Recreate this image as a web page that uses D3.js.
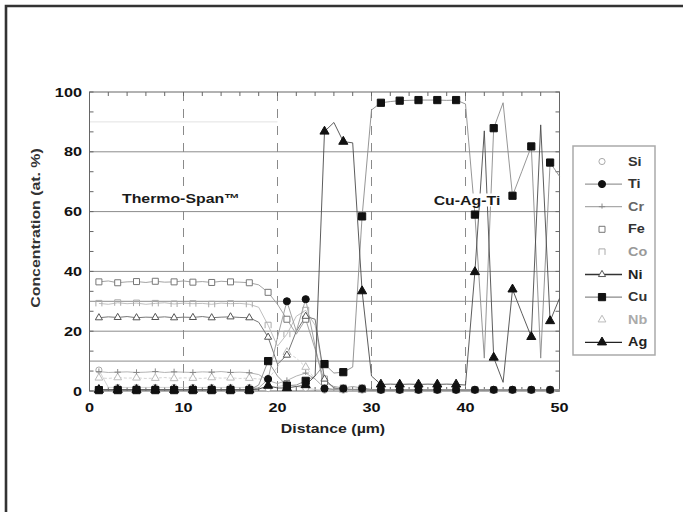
<!DOCTYPE html>
<html><head><meta charset="utf-8">
<script src="https://cdn.jsdelivr.net/npm/d3@7"></script>
<style>body{margin:0;background:#fff} svg{display:block} text{font-family:"Liberation Sans",Arial,sans-serif;font-weight:bold}</style>
</head><body><svg id="c" width="683" height="512"></svg>
<script>
// ---------------- data (x = 1 .. 50 µm, markers on every other point) ----------------
const distance = d3.range(1, 51);
const Si = [7.0,1.2,1.2,1.2,1.2,1.2,1.2,1.2,1.2,1.2,1.2,1.2,1.2,1.2,1.2,1.2,1.2,
  1.0,0.8,1.5,2.0,1.5,1.0,0.5,0.3,0.3,0.3,0.3,0.3,0.3,
  0.3,0.3,0.3,0.3,0.3,0.3,0.3,0.3,0.3,0.3,0.3,0.3,0.3,0.3,0.3,0.3,0.3,0.3,0.3,0.3];
const Ti = [0.5,0.5,0.5,0.5,0.5,0.5,0.5,0.5,0.5,0.5,0.5,0.5,0.5,0.5,0.5,0.5,0.5,
  1.0,4.0,18.0,30.0,20.0,30.7,15.0,0.8,0.5,0.8,0.5,0.8,0.5,
  0.4,0.4,0.4,0.4,0.4,0.4,0.4,0.4,0.4,0.4,0.4,0.4,0.4,0.4,0.4,0.4,0.4,0.4,0.4,0.4];
const Cr = [6.5,6.2,6.3,6.4,6.2,6.3,6.5,6.2,6.4,6.3,6.2,6.4,6.3,6.5,6.2,6.3,6.1,
  5.5,3.5,2.5,3.5,5.0,6.0,4.0,1.0,0.5,0.4,0.3,0.3,0.3,
  0.3,0.3,0.3,0.3,0.3,0.3,0.3,0.3,0.3,0.3,0.3,0.3,0.3,0.3,0.3,0.3,0.3,0.3,0.3,0.3];
const Fe = [36.5,36.8,36.2,36.5,36.6,36.3,36.7,36.4,36.5,36.8,36.4,36.6,36.3,36.7,36.5,36.4,36.2,
  35.5,33.0,29.0,24.0,19.0,24.0,14.0,3.0,1.5,1.0,1.5,1.0,0.5,
  0.4,0.4,0.4,0.4,0.4,0.4,0.4,0.4,0.4,0.4,0.4,0.4,0.4,0.4,0.4,0.4,0.4,0.4,0.4,0.4];
const Co = [29.3,29.0,29.5,29.2,29.4,29.0,29.3,29.5,29.1,29.4,29.2,29.3,29.0,29.4,29.2,29.3,29.0,
  28.0,22.0,15.0,19.0,25.0,27.0,22.0,4.0,1.0,0.6,0.5,0.4,0.3,
  0.3,0.3,0.3,0.3,0.3,0.3,0.3,0.3,0.3,0.3,0.3,0.3,0.3,0.3,0.3,0.3,0.3,0.3,0.3,0.3];
const Ni = [24.5,24.8,24.6,24.9,24.5,24.7,24.6,24.8,24.5,24.7,24.6,24.9,24.5,24.7,24.8,24.6,24.5,
  23.0,18.0,9.0,12.0,20.0,25.0,24.0,4.0,1.0,0.6,0.5,0.4,0.3,
  0.3,0.3,0.3,0.3,0.3,0.3,0.3,0.3,0.3,0.3,0.3,0.3,0.3,0.3,0.3,0.3,0.3,0.3,0.3,0.3];
const Cu = [0.3,0.3,0.3,0.3,0.3,0.3,0.3,0.3,0.3,0.3,0.3,0.3,0.3,0.3,0.3,0.3,0.3,
  2.0,10.0,5.0,1.8,2.0,3.4,5.0,9.0,6.0,6.3,8.0,58.4,94.0,
  96.4,96.8,97.1,97.2,97.3,97.3,97.3,97.2,97.3,96.0,59.0,11.0,87.9,96.4,65.3,73.5,81.8,11.0,76.4,71.8];
const Nb = [4.4,4.2,4.5,4.3,4.4,4.2,4.3,4.5,4.2,4.4,4.3,4.2,4.5,4.3,4.4,4.2,4.3,
  4.0,4.0,8.0,13.0,11.0,8.0,4.0,1.0,0.5,0.3,0.3,0.3,0.3,
  0.2,0.2,0.2,0.2,0.2,0.2,0.2,0.2,0.2,0.2,0.2,0.2,0.2,0.2,0.2,0.2,0.2,0.2,0.2,0.2];
const Ag = [0.4,0.4,0.4,0.4,0.4,0.4,0.4,0.4,0.4,0.4,0.4,0.4,0.4,0.4,0.4,0.4,0.4,
  0.6,1.8,1.0,1.0,1.5,2.0,5.0,86.8,89.8,83.4,83.0,33.4,5.0,
  2.2,2.3,2.2,2.3,2.2,2.3,2.2,2.3,2.2,2.0,39.8,87.0,11.2,2.9,34.0,26.0,18.1,89.0,23.4,31.0];

const xTicks = [0,10,20,30,40,50];
const yTicks = [0,20,40,60,80,100];
const gridMain = [10,20,30,40,60,80];
const gridFaint = [90];
const dashedX = [10,20,30,40];
const legendNames = ["Si","Ti","Cr","Fe","Co","Ni","Cu","Nb","Ag"];
const xLabel = "Distance  (\u00b5m)";
const yLabel = "Concentration  (at. %)";
const notes = ["Thermo-Span\u2122","Cu-Ag-Ti"];

// ---------------- styles ----------------
const coMarker = {draw(ctx,size){const r=Math.sqrt(size)/2;ctx.moveTo(-r,r);ctx.lineTo(-r,-r);ctx.lineTo(r,-r);ctx.lineTo(r,r);}};
const crMarker = {draw(ctx,size){const r=Math.sqrt(size)/2;ctx.moveTo(-r,0);ctx.lineTo(r,0);ctx.moveTo(0,-r);ctx.lineTo(0,r*0.6);}};
const series = [
  {name:"Si", v:Si, line:"#c8c8c8", lw:0.8, sym:d3.symbolCircle, size:30, fill:"#fff", stroke:"#aaa", legLine:false, lab:"#333"},
  {name:"Nb", v:Nb, line:"#c8c8c8", lw:0.8, dash:"3,2", sym:d3.symbolTriangle, size:26, fill:"#fff", stroke:"#bbb", legLine:false, lab:"#aaa"},
  {name:"Co", v:Co, line:"#b8b8b8", lw:0.9, sym:coMarker, size:36, fill:"none", stroke:"#aaa", legLine:false, lab:"#999"},
  {name:"Cr", v:Cr, line:"#aaa", lw:0.9, sym:crMarker, size:40, fill:"none", stroke:"#888", legLine:true, lab:"#666"},
  {name:"Fe", v:Fe, line:"#999", lw:0.9, sym:d3.symbolSquare, size:36, fill:"#fff", stroke:"#777", legLine:false, lab:"#333"},
  {name:"Ni", v:Ni, line:"#777", lw:1, sym:d3.symbolTriangle, size:22, fill:"#fff", stroke:"#555", legLine:true, legLineColor:"#333", lab:"#222"},
  {name:"Ti", v:Ti, line:"#999", lw:0.9, sym:d3.symbolCircle, size:40, fill:"#111", stroke:"#111", legLine:true, lab:"#333"},
  {name:"Cu", v:Cu, line:"#8a8a8a", lw:0.9, sym:d3.symbolSquare, size:52, fill:"#111", stroke:"#111", legLine:true, lab:"#333"},
  {name:"Ag", v:Ag, line:"#4a4a4a", lw:0.9, sym:d3.symbolTriangle, size:36, fill:"#111", stroke:"#111", legLine:true, legLineColor:"#222", lab:"#222"}
];

const svg = d3.select("#c");
const x = d3.scaleLinear().domain([0,50]).range([89.5,559.5]);
const y = d3.scaleLinear().domain([0,100]).range([391,92]);
const STRETCH = 1.25;
function stretch(sel,k){sel.each(function(){const w=this.getComputedTextLength();d3.select(this).attr("textLength",w*k).attr("lengthAdjust","spacingAndGlyphs");});}

// outer frame
svg.append("path").attr("d","M6,512 L6,6 L683,6").attr("fill","none").attr("stroke","#333").attr("stroke-width",2.6);

// gridlines
svg.selectAll(".gf").data(gridFaint).enter().append("line")
  .attr("x1",x(0)).attr("x2",x(20)).attr("y1",d=>y(d)).attr("y2",d=>y(d)).attr("stroke","#e2e2e2").attr("stroke-width",1);
svg.selectAll(".gm").data(gridMain).enter().append("line")
  .attr("x1",x(0)).attr("x2",x(50)).attr("y1",d=>y(d)).attr("y2",d=>y(d)).attr("stroke","#8c8c8c").attr("stroke-width",1);
svg.selectAll(".gx").data(dashedX).enter().append("line")
  .attr("x1",d=>x(d)).attr("x2",d=>x(d)).attr("y1",y(100)).attr("y2",y(0)).attr("stroke","#8a8a8a").attr("stroke-width",1).attr("stroke-dasharray","9,8");

// axes frame
const ax = svg.append("g").attr("stroke","#666").attr("stroke-width",1).attr("fill","none");
ax.append("rect").attr("x",x(0)).attr("y",y(100)).attr("width",x(50)-x(0)).attr("height",y(0)-y(100));
const xm = d3.range(2,50,2), ym = d3.range(0,100.01,20/3);
ax.selectAll(".tt").data(xm).enter().append("line").attr("x1",d=>x(d)).attr("x2",d=>x(d)).attr("y1",y(100)).attr("y2",y(100)+4);
ax.selectAll(".tb").data(xm).enter().append("line").attr("x1",d=>x(d)).attr("x2",d=>x(d)).attr("y1",y(0)).attr("y2",y(0)-4);
ax.selectAll(".tl").data(ym).enter().append("line").attr("x1",x(0)).attr("x2",x(0)+4).attr("y1",d=>y(d)).attr("y2",d=>y(d));
ax.selectAll(".tr").data(ym).enter().append("line").attr("x1",x(50)).attr("x2",x(50)-4).attr("y1",d=>y(d)).attr("y2",d=>y(d));

// series lines
const line = d3.line().x((d,i)=>x(distance[i])).y(d=>y(d));
series.forEach(s=>{
  svg.append("path").attr("d",line(s.v)).attr("fill","none").attr("stroke",s.line).attr("stroke-width",s.lw)
    .attr("stroke-dasharray",s.dash||null).attr("stroke-linejoin","round");
});
// markers (every other point)
series.forEach(s=>{
  const sym = d3.symbol().type(s.sym).size(s.size);
  svg.selectAll(null).data(s.v.map((v,i)=>[distance[i],v]).filter((d,i)=>i%2===0)).enter().append("path")
    .attr("d",sym).attr("transform",d=>`translate(${x(d[0])},${y(d[1])})`)
    .attr("fill",s.fill).attr("stroke",s.stroke).attr("stroke-width",1);
});

// annotation labels with white backgrounds
function note(txt,cx,cy){
  const t = svg.append("text").attr("x",cx).attr("y",cy).attr("text-anchor","middle").attr("dominant-baseline","central")
    .attr("font-size",13).attr("fill","#1a1a1a").text(txt);
  stretch(t,1.22);
  const b = t.node().getBBox();
  svg.insert("rect",()=>t.node()).attr("x",b.x-3).attr("y",b.y+1).attr("width",b.width+6).attr("height",b.height-2).attr("fill","#fff");
}
note(notes[0],181,198.5);
note(notes[1],467,200);

// tick labels
const xl = svg.selectAll(".xl").data(xTicks).enter().append("text").attr("x",d=>x(d)).attr("y",407)
  .attr("text-anchor","middle").attr("dominant-baseline","central").attr("font-size",13).attr("fill","#111").text(d=>d);
stretch(xl,STRETCH);
const yl = svg.selectAll(".yl").data(yTicks).enter().append("text").attr("x",82).attr("y",d=>y(d))
  .attr("text-anchor","end").attr("dominant-baseline","central").attr("font-size",13).attr("fill","#111").text(d=>d);
stretch(yl,STRETCH);

// axis titles
const xt = svg.append("text").attr("x",333).attr("y",428).attr("text-anchor","middle").attr("dominant-baseline","central")
  .attr("font-size",13).attr("fill","#222").text(xLabel);
stretch(xt,1.22);
const yt = svg.append("text").attr("transform","translate(35,228) rotate(-90)").attr("text-anchor","middle").attr("dominant-baseline","central")
  .attr("font-size",13).attr("fill","#333").text(yLabel);
stretch(yt,1.22);

// legend
const lg = svg.append("g");
lg.append("rect").attr("x",573).attr("y",146).attr("width",82).attr("height",209).attr("fill","#fff").attr("stroke","#aaa").attr("stroke-width",1.5);
legendNames.forEach((nm,i)=>{
  const s = series.find(d=>d.name===nm);
  const cy = 161.5 + i*22.6;
  if(s.legLine) lg.append("line").attr("x1",585).attr("x2",622).attr("y1",cy).attr("y2",cy).attr("stroke",s.legLineColor||s.line).attr("stroke-width",s.lw+0.3);
  lg.append("path").attr("d",d3.symbol().type(s.sym).size(s.size)).attr("transform",`translate(602,${cy})`)
    .attr("fill",s.fill).attr("stroke",s.stroke);
  const t = lg.append("text").attr("x",628).attr("y",cy).attr("dominant-baseline","central").attr("font-size",12).attr("fill",s.lab).text(nm);
  stretch(t,1.2);
});
</script></body></html>
